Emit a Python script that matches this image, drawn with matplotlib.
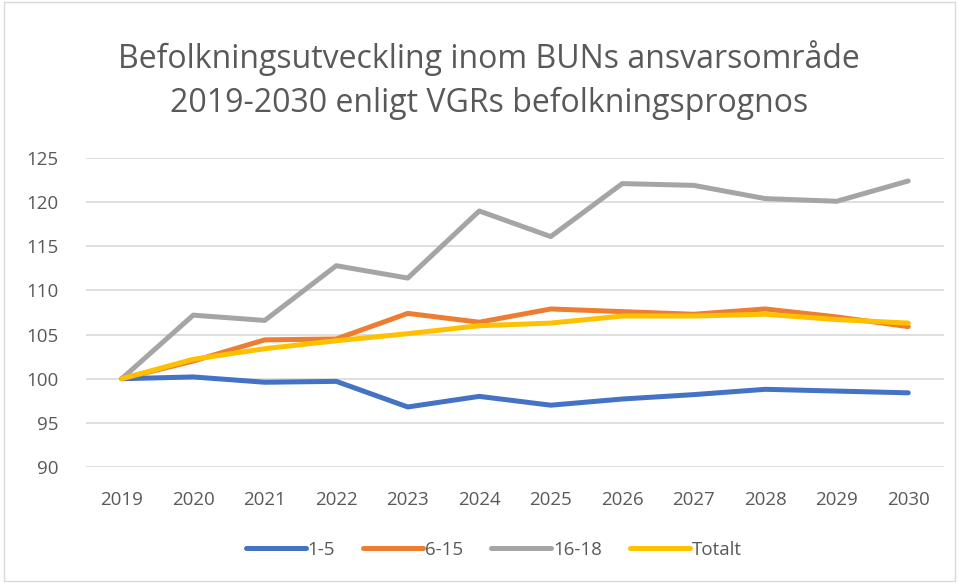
import matplotlib
matplotlib.use("Agg")
import matplotlib.pyplot as plt
from matplotlib.patches import Rectangle

years = ["2019", "2020", "2021", "2022", "2023", "2024", "2025", "2026", "2027", "2028", "2029", "2030"]
age_1_5 = [100, 100.2, 99.6, 99.7, 96.8, 98.0, 97.0, 97.7, 98.2, 98.8, 98.6, 98.4]
age_6_15 = [100, 102.0, 104.4, 104.5, 107.4, 106.4, 107.9, 107.6, 107.3, 107.9, 107.0, 105.9]
age_16_18 = [100, 107.2, 106.6, 112.8, 111.4, 119.0, 116.1, 122.1, 121.9, 120.4, 120.1, 122.4]
totalt = [100, 102.2, 103.4, 104.3, 105.1, 106.0, 106.3, 107.1, 107.1, 107.3, 106.7, 106.3]

series = [("1-5", age_1_5, "#4472C4"),
          ("6-15", age_6_15, "#ED7D31"),
          ("16-18", age_16_18, "#A5A5A5"),
          ("Totalt", totalt, "#FFC000")]

plt.rcParams['font.family'] = ['Open Sans', 'DejaVu Sans']
txt = "#595959"

fig = plt.figure(figsize=(9.59, 5.83), dpi=100)
ax = fig.add_axes([86 / 959, 1 - 467 / 583, (944 - 86) / 959, (467 - 158) / 583])

x = range(len(years))
for name, vals, col in series:
    ax.plot(x, vals, color=col, lw=3.6, label=name, solid_capstyle="round", solid_joinstyle="round")

ax.set_xlim(-0.5, len(years) - 0.5)
ax.set_ylim(90, 125)
ax.set_yticks(range(90, 126, 5))
ax.set_xticks(list(x))
ax.set_xticklabels(years)
ax.grid(axis="y", color="#D9D9D9", lw=1.2)
ax.set_axisbelow(True)
for s in ax.spines.values():
    s.set_visible(False)
ax.tick_params(length=0, colors=txt, labelsize=13.5)
ax.tick_params(axis="y", pad=20)
ax.tick_params(axis="x", pad=17)

fig.text(0.51, 1 - 80 / 583, "Befolkningsutveckling inom BUNs ansvarsområde\n2019-2030 enligt VGRs befolkningsprognos",
         ha="center", va="center", fontsize=23, color=txt, linespacing=1.4)

fig.legend(loc="center", bbox_to_anchor=(0.515, 1 - 550 / 583), ncol=4, frameon=False,
           fontsize=13.5, labelcolor=txt, handlelength=3.2, handletextpad=0.1, columnspacing=1.5)

fig.patches.append(Rectangle((0.004, 0.004), 0.992, 0.992, transform=fig.transFigure,
                             fill=False, edgecolor="#D9D9D9", lw=1))

fig.savefig("out.png", dpi=100)
